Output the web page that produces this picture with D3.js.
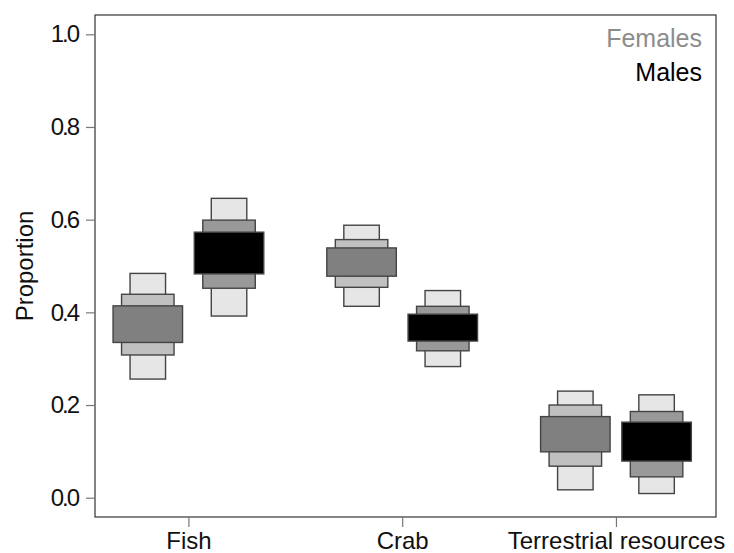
<!DOCTYPE html>
<html>
<head>
<meta charset="utf-8">
<script src="https://cdn.jsdelivr.net/npm/d3@7/dist/d3.min.js"></script>
<style>
  html, body { margin: 0; padding: 0; background: #fff; }
  svg text { font-family: "Liberation Sans", Arial, sans-serif; }
</style>
</head>
<body>
<svg id="chart" width="734" height="553"></svg>
<script>
// ---- data ----
const categories = ["Fish", "Crab", "Terrestrial resources"];
const groups = ["Females", "Males"];
const yTicks = [0.0, 0.2, 0.4, 0.6, 0.8, 1.0];
// credible intervals [low, high] per category
const females95 = [[0.256, 0.484], [0.413, 0.588], [0.017, 0.230]];
const females75 = [[0.308, 0.439], [0.454, 0.557], [0.068, 0.200]];
const females50 = [[0.335, 0.414], [0.478, 0.539], [0.099, 0.175]];
const males95   = [[0.392, 0.646], [0.283, 0.447], [0.009, 0.222]];
const males75   = [[0.452, 0.599], [0.317, 0.413], [0.045, 0.186]];
const males50   = [[0.483, 0.573], [0.338, 0.396], [0.079, 0.163]];

// ---- layout ----
const M = { left: 95, right: 716, top: 15, bottom: 517 };
const svg = d3.select("#chart");

const x = d3.scaleLinear().domain([-0.437, 2.468]).range([M.left, M.right]);
const y = d3.scaleLinear().domain([0, 1]).range([497.7, 34.3]);
const groupOffset = { Females: -0.19, Males: 0.19 };

const levels = [
  { key: "95", width: 35.5, fill: { Females: "#e6e6e6", Males: "#e6e6e6" },
    data: { Females: females95, Males: males95 } },
  { key: "75", width: 52.5, fill: { Females: "#c0c0c0", Males: "#999999" },
    data: { Females: females75, Males: males75 } },
  { key: "50", width: 69.5, fill: { Females: "#808080", Males: "#000000" },
    data: { Females: females50, Males: males50 } }
];

// boxes
const boxes = [];
levels.forEach(lv => {
  groups.forEach(g => {
    lv.data[g].forEach((iv, i) => {
      boxes.push({ cat: i, g, lo: iv[0], hi: iv[1], width: lv.width, fill: lv.fill[g] });
    });
  });
});

svg.append("g").selectAll("rect").data(boxes).join("rect")
  .attr("x", d => x(d.cat + groupOffset[d.g]) - d.width / 2)
  .attr("width", d => d.width)
  .attr("y", d => y(d.hi))
  .attr("height", d => y(d.lo) - y(d.hi))
  .attr("fill", d => d.fill)
  .attr("stroke", "#444")
  .attr("stroke-width", 1.4);

// frame
svg.append("rect")
  .attr("x", M.left).attr("y", M.top)
  .attr("width", M.right - M.left).attr("height", M.bottom - M.top)
  .attr("fill", "none").attr("stroke", "#333").attr("stroke-width", 1.2);

// y axis
const yAxis = d3.axisLeft(y).tickValues(yTicks).tickFormat(d3.format(".1f")).tickSize(9).tickPadding(8);
const gy = svg.append("g").attr("transform", `translate(${M.left},0)`).call(yAxis);
gy.select(".domain").remove();
gy.selectAll(".tick line").attr("stroke", "#777").attr("stroke-width", 1.2);
gy.selectAll(".tick text")
  .attr("font-size", 24).attr("fill", "#111")
  .attr("letter-spacing", "-2px")
  .attr("font-family", "Liberation Sans, Arial, sans-serif");

// x axis
const xAxis = d3.axisBottom(x).tickValues(d3.range(categories.length))
  .tickFormat(i => categories[i]).tickSize(10).tickPadding(5);
const gx = svg.append("g").attr("transform", `translate(0,${M.bottom})`).call(xAxis);
gx.select(".domain").remove();
gx.selectAll(".tick line").attr("stroke", "#777").attr("stroke-width", 1.2);
gx.selectAll(".tick text")
  .attr("font-size", 24).attr("fill", "#111")
  .attr("font-family", "Liberation Sans, Arial, sans-serif");

// y label
svg.append("text")
  .attr("transform", `translate(33,${(M.top + M.bottom) / 2}) rotate(-90)`)
  .attr("text-anchor", "middle")
  .attr("font-size", 24).attr("fill", "#111")
  .text("Proportion");

// legend
const legendColors = { Females: "#8c8c8c", Males: "#000" };
svg.append("g").selectAll("text").data(groups).join("text")
  .attr("x", 702)
  .attr("y", (d, i) => 47 + i * 34)
  .attr("text-anchor", "end")
  .attr("font-size", 25)
  .attr("fill", d => legendColors[d])
  .text(d => d);
</script>
</body>
</html>
